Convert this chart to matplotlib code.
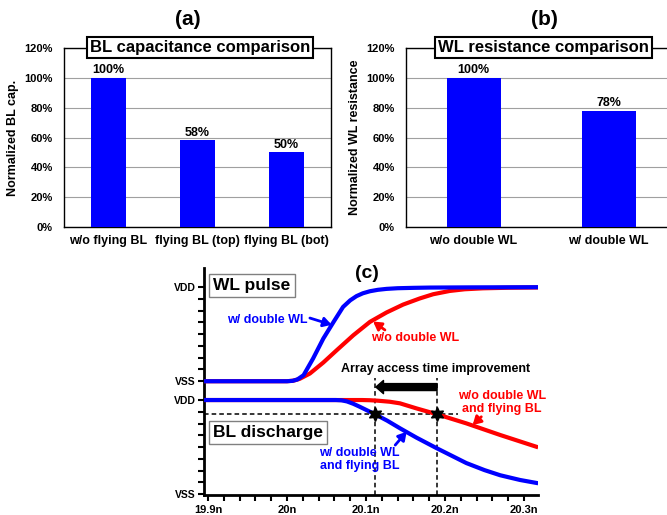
import numpy as np
import matplotlib
matplotlib.use("Agg")
import matplotlib.pyplot as plt
from matplotlib.ticker import FixedLocator, MultipleLocator

plt.rcParams['font.family'] = ['Liberation Sans', 'DejaVu Sans']
plt.rcParams['font.weight'] = 'bold'

# (a) BL capacitance
cap_labels = ['w/o flying BL', 'flying BL (top)', 'flying BL (bot)']
cap_values = [100, 58, 50]

# (b) WL resistance
res_labels = ['w/o double WL', 'w/ double WL']
res_values = [100, 78]

# (c) waveforms, time in ns, values as fraction of VDD
t_wl_dbl = [19.895, 20.0, 20.007, 20.013, 20.021, 20.033, 20.046, 20.059, 20.071, 20.080,
            20.088, 20.096, 20.105, 20.115, 20.126, 20.140, 20.160, 20.181, 20.230, 20.318]
wl_dbl = [0, 0, 0.004, 0.018, 0.064, 0.241, 0.454, 0.631, 0.79, 0.86,
          0.905, 0.935, 0.957, 0.972, 0.982, 0.989, 0.993, 0.996, 0.998, 1.0]
t_wl_nodbl = [19.895, 20.0, 20.008, 20.016, 20.029, 20.046, 20.063, 20.084, 20.105, 20.126,
              20.147, 20.168, 20.185, 20.206, 20.225, 20.248, 20.280, 20.318]
wl_nodbl = [0, 0, 0.006, 0.025, 0.082, 0.199, 0.33, 0.489, 0.631, 0.731,
            0.815, 0.88, 0.925, 0.96, 0.978, 0.988, 0.994, 0.997]
t_bl_dbl = [19.895, 20.062, 20.069, 20.076, 20.084, 20.092, 20.101, 20.111, 20.127, 20.143,
            20.164, 20.189, 20.227, 20.250, 20.270, 20.295, 20.318]
bl_dbl = [1, 1, 0.997, 0.985, 0.96, 0.929, 0.892, 0.851, 0.78, 0.70,
          0.60, 0.49, 0.33, 0.255, 0.20, 0.15, 0.115]
t_bl_nodbl = [19.895, 20.095, 20.105, 20.115, 20.130, 20.143, 20.164, 20.189, 20.227, 20.270, 20.318]
bl_nodbl = [1, 1, 0.998, 0.993, 0.982, 0.965, 0.911, 0.851, 0.752, 0.628, 0.497]

t_cross = [20.111, 20.190]   # where BL crosses sensing level
sense_level = 0.851

xtick_vals = [19.9, 20.0, 20.1, 20.2, 20.3]
xtick_labels = ['19.9n', '20n', '20.1n', '20.2n', '20.3n']

BLUE = '#0000FF'
RED = '#FF0000'

fig = plt.figure(figsize=(6.67, 5.15), dpi=100)


def bar_panel(rect, labels, values, ylabel, title, tag, tag_x):
    ax = fig.add_axes(rect)
    x = np.arange(len(labels))
    ax.bar(x, values, width=0.4, color=BLUE, zorder=3)
    ax.set_xlim(-0.5, len(labels) - 0.5)
    ax.set_ylim(0, 120)
    ax.set_yticks(range(0, 121, 20))
    ax.set_yticklabels([f'{v}%' for v in range(0, 121, 20)], fontsize=8, fontweight='bold')
    ax.set_xticks(x)
    ax.set_xticklabels(labels, fontsize=9, fontweight='bold')
    ax.tick_params(length=0)
    ax.tick_params(axis='y', pad=8)
    ax.tick_params(axis='x', pad=6)
    ax.grid(axis='y', color='#A0A0A0', lw=0.8, zorder=0)
    for s in ax.spines.values():
        s.set_linewidth(1.0)
    for xi, v in zip(x, values):
        ax.text(xi, v + 1.2, f'{v}%', ha='center', va='bottom', fontsize=9, fontweight='bold')
    ax.set_ylabel(ylabel, fontsize=9, fontweight='bold', labelpad=4)
    ax.text(0.51, 1.0, title, transform=ax.transAxes, ha='center', va='center',
            fontsize=12, fontweight='bold', zorder=5,
            bbox=dict(boxstyle='square,pad=0.18', fc='white', ec='black', lw=1.5))
    fig.text(tag_x, 0.963, tag, ha='center', va='center', fontsize=15, fontweight='bold')
    return ax


bar_panel([0.096, 0.5592, 0.4003, 0.3476], cap_labels, cap_values,
          'Normalized BL cap.', 'BL capacitance comparison', '(a)', 0.282)
bar_panel([0.6087, 0.5592, 0.4048, 0.3476], res_labels, res_values,
          'Normalized WL resistance', 'WL resistance comparison', '(b)', 0.816)

# (c) waveforms
WL_BASE, BL_BASE = 1.2, 0.0
axc = fig.add_axes([0.3058, 0.0388, 0.5007, 0.4408])
axc.set_xlim(19.8949, 20.3177)
axc.set_ylim(-0.01, 2.404)

axc.plot(t_wl_nodbl, WL_BASE + np.array(wl_nodbl), color=RED, lw=3, solid_capstyle='butt', zorder=3)
axc.plot(t_wl_dbl, WL_BASE + np.array(wl_dbl), color=BLUE, lw=3, solid_capstyle='butt', zorder=4)
axc.plot(t_bl_nodbl, BL_BASE + np.array(bl_nodbl), color=RED, lw=3, solid_capstyle='butt', zorder=3)
axc.plot(t_bl_dbl, BL_BASE + np.array(bl_dbl), color=BLUE, lw=3, solid_capstyle='butt', zorder=4)

# sensing level and crossing markers
axc.plot([19.8949, 20.216], [sense_level, sense_level], color='black', lw=1.1, ls=(0, (3, 2)), zorder=2)
for tc in t_cross:
    axc.plot([tc, tc], [-0.01, 1.234], color='black', lw=1.1, ls=(0, (3, 2)), zorder=2)
axc.plot(t_cross, [sense_level] * 2, ls='none', marker=(6, 1, 0), ms=10, color='black', zorder=6)

axc.annotate('', xy=(t_cross[0] + 0.0015, 1.138), xytext=(t_cross[1], 1.138),
             arrowprops=dict(arrowstyle='simple,head_width=0.95,head_length=0.55,tail_width=0.5',
                             color='black', mutation_scale=10, shrinkA=0, shrinkB=0), zorder=6)
axc.text(20.1886, 1.33, 'Array access time improvement', ha='center', va='center',
         fontsize=9, fontweight='bold')


# curve labels
def label(x, y, s, color, tail, tip, ha='center'):
    axc.text(x, y, s, color=color, ha=ha, va='center', fontsize=9, fontweight='bold',
             linespacing=1.1, zorder=7)
    axc.annotate('', xy=tip, xytext=tail,
                 arrowprops=dict(arrowstyle='-|>,head_width=0.35,head_length=0.6', color=color,
                                 lw=2, mutation_scale=8, shrinkA=0, shrinkB=0), zorder=7)


label(19.975, 1.851, 'w/ double WL', BLUE, (20.029, 1.872), (20.0566, 1.80))
label(20.162, 1.656, 'w/o double WL', RED, (20.124, 1.745), (20.109, 1.835))
label(20.272, 0.973, 'w/o double WL\nand flying BL', RED, (20.246, 0.822), (20.235, 0.734))
label(20.092, 0.372, 'w/ double WL\nand flying BL', BLUE, (20.137, 0.521), (20.1515, 0.663))

box = dict(boxstyle='square,pad=0.25', fc='white', ec='#808080', lw=1)
axc.text(19.9063, 2.218, 'WL pulse', ha='left', va='center', fontsize=12.5, fontweight='bold', bbox=box, zorder=5)
axc.text(19.9063, 0.654, 'BL discharge', ha='left', va='center', fontsize=12.5, fontweight='bold', bbox=box, zorder=5)

fig.text(0.550, 0.468, '(c)', ha='center', va='center', fontsize=14, fontweight='bold')

axc.spines['top'].set_visible(False)
axc.spines['right'].set_visible(False)
axc.spines['left'].set_linewidth(2)
axc.spines['bottom'].set_linewidth(2)
axc.set_xticks(xtick_vals)
axc.set_xticklabels(xtick_labels, fontsize=8, fontweight='bold')
axc.xaxis.set_minor_locator(MultipleLocator(0.02))
axc.set_yticks([BL_BASE, BL_BASE + 1, WL_BASE, WL_BASE + 1])
axc.set_yticklabels(['VSS', 'VDD', 'VSS', 'VDD'], fontsize=7.5, fontweight='bold')
minor_y = list(np.arange(0, 1.0, 0.125)) + list(1.2 + np.arange(0, 1.0, 0.125))
axc.yaxis.set_minor_locator(FixedLocator(minor_y))
axc.tick_params(which='both', direction='out', length=4, width=1.5, color='black')
axc.tick_params(axis='y', which='major', pad=2)

fig.savefig('out.png', dpi=100)
